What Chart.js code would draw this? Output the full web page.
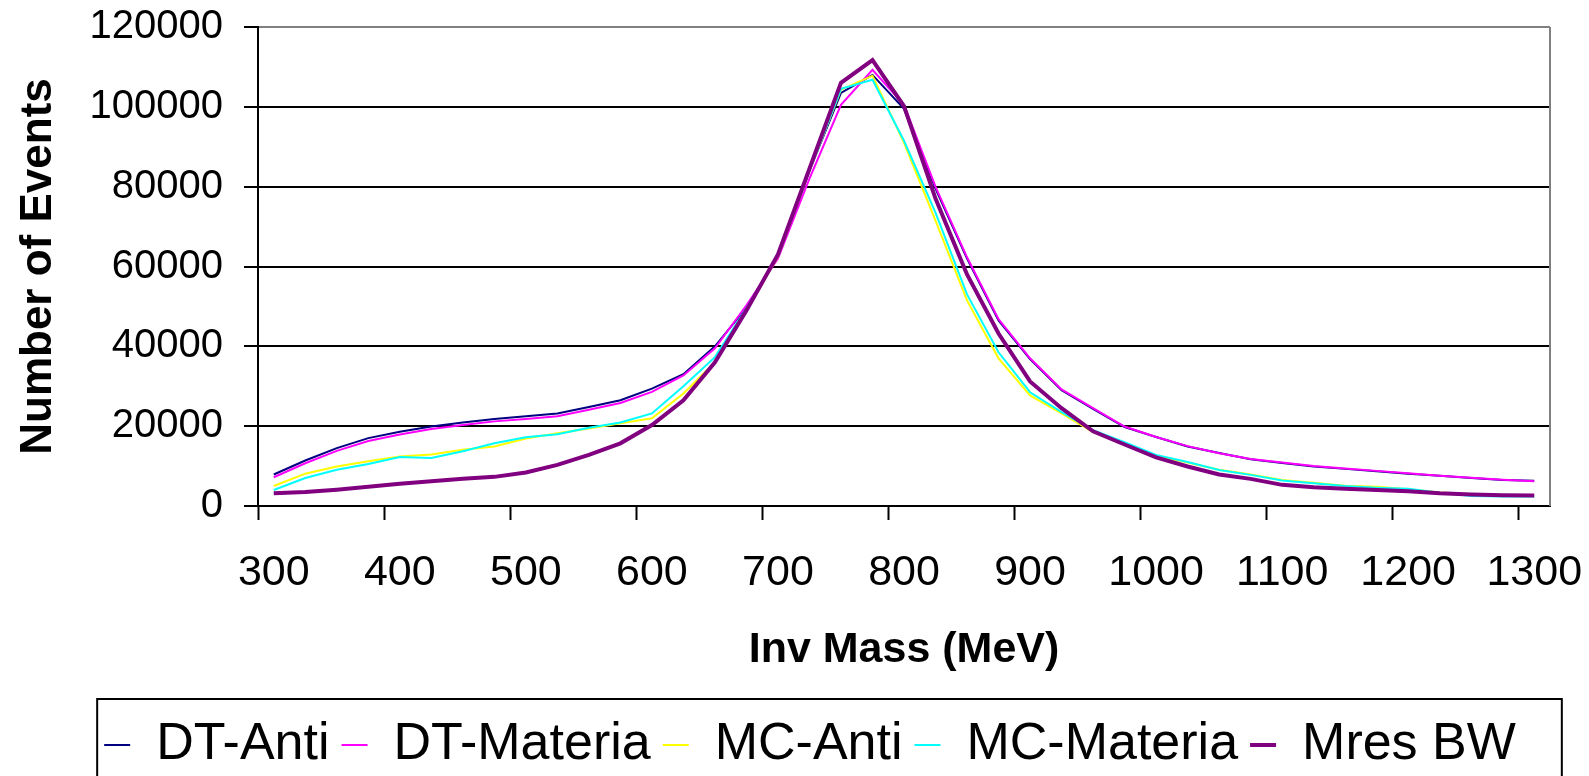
<!DOCTYPE html>
<html>
<head>
<meta charset="utf-8">
<title>Inv Mass</title>
<script src="https://cdn.jsdelivr.net/npm/chart.js@4.4.1/dist/chart.umd.min.js"></script>
<style>
    body { margin: 0; background: #ffffff; }
    #box { width: 1589px; height: 776px; position: relative; }
</style>
</head>
<body>
<div id="box"><canvas id="graficoMassa"></canvas></div>
<script>
// categorias (MeV), uma a cada 25
const massLabels = ['300', '325', '350', '375', '400', '425', '450', '475', '500', '525',
    '550', '575', '600', '625', '650', '675', '700', '725', '750', '775',
    '800', '825', '850', '875', '900', '925', '950', '975', '1000', '1025',
    '1050', '1075', '1100', '1125', '1150', '1175', '1200', '1225', '1250', '1275', '1300'];

const dtAnti = [7900, 11400, 14500, 17000, 18600, 19900, 20900, 21800, 22500, 23200,
    24800, 26500, 29400, 33000, 40000, 49700, 62500, 84000, 103500, 108000,
    99500, 79500, 62000, 46500, 36800, 29000, 24300, 19800, 17300, 14900,
    13300, 11700, 10800, 9900, 9300, 8700, 8100, 7600, 7000, 6500, 6300];

const dtMateria = [7200, 10700, 13800, 16300, 17900, 19300, 20300, 21200, 21800, 22500,
    24100, 25800, 28600, 32700, 39500, 50300, 62000, 82000, 100500, 109300,
    100500, 80000, 62300, 46800, 37000, 29200, 24500, 19900, 17300, 15000,
    13200, 11800, 10900, 10000, 9400, 8800, 8200, 7600, 7100, 6600, 6200];

const mcAnti = [5000, 8100, 9900, 11200, 12400, 12900, 14100, 14900, 16900, 18200,
    19400, 20700, 22000, 28200, 36000, 49000, 62500, 84000, 104300, 107800,
    91000, 71500, 51500, 37000, 27700, 23200, 18500, 15800, 12600, 10900,
    9100, 7900, 6500, 5800, 5100, 4800, 4200, 3400, 2900, 2600, 2500];

const mcMateria = [4000, 7000, 9100, 10500, 12300, 12000, 13700, 15700, 17200, 18000,
    19600, 20900, 23200, 30000, 37300, 49500, 63000, 84000, 104500, 106800,
    91500, 73500, 53000, 38500, 28500, 23500, 19000, 16000, 12800, 11000,
    9000, 7800, 6400, 5700, 5000, 4600, 4300, 3300, 2500, 2400, 2400];

const mresBW = [3200, 3500, 4100, 4800, 5600, 6200, 6800, 7300, 8400, 10300,
    12800, 15700, 20300, 26500, 36000, 49000, 63000, 84500, 106000, 111700,
    100200, 77000, 58000, 43200, 31200, 24500, 18700, 15400, 12200, 9900,
    7900, 6800, 5300, 4700, 4300, 4000, 3700, 3200, 2900, 2700, 2600];

const fonte = "'Liberation Sans', Arial, sans-serif";

function serie(label, data, cor, largura, ordem) {
    return {
        label: label,
        data: data,
        borderColor: cor,
        backgroundColor: cor,
        borderWidth: largura,
        pointRadius: 0,
        pointHoverRadius: 0,
        pointStyle: 'line',
        tension: 0,
        fill: false,
        order: ordem
    };
}

// moldura da area do grafico e caixa da legenda
const molduraPlugin = {
    id: 'moldura',
    beforeDatasetsDraw(chart) {
        const a = chart.chartArea;
        const ctx = chart.ctx;
        ctx.save();
        ctx.strokeStyle = '#808080';
        ctx.lineWidth = 2;
        ctx.beginPath();
        ctx.moveTo(a.right, a.top);
        ctx.lineTo(a.right, a.bottom);
        ctx.stroke();
        ctx.restore();
    },
    afterDraw(chart) {
        const boxes = chart.legend.legendHitBoxes;
        if (!boxes || !boxes.length) return;
        const first = boxes[0];
        const last = boxes[boxes.length - 1];
        const ctx = chart.ctx;
        ctx.save();
        ctx.strokeStyle = '#000000';
        ctx.lineWidth = 2;
        ctx.strokeRect(first.left - 7, first.top - 20, last.left + last.width + 46 - (first.left - 7), 120);
        ctx.restore();
    }
};

const ctx = document.getElementById('graficoMassa').getContext('2d');
const chart = new Chart(ctx, {
    type: 'line',
    data: {
        labels: massLabels,
        datasets: [
            serie('DT-Anti', dtAnti, '#000080', 2, 5),
            serie('DT-Materia', dtMateria, '#ff00ff', 2, 4),
            serie('MC-Anti', mcAnti, '#ffff00', 2, 3),
            serie('MC-Materia', mcMateria, '#00ffff', 2, 2),
            serie('Mres BW', mresBW, '#800080', 4, 1)
        ]
    },
    options: {
        responsive: true,
        maintainAspectRatio: false,
        animation: false,
        layout: {
            padding: { left: 70, right: 39, top: 27, bottom: -5 }
        },
        plugins: {
            tooltip: { enabled: false },
            legend: {
                position: 'bottom',
                labels: {
                    usePointStyle: true,
                    pointStyleWidth: 26,
                    padding: 12,
                    color: '#000',
                    font: { family: fonte, size: 52 },
                    sort: (a, b) => a.datasetIndex - b.datasetIndex
                }
            }
        },
        scales: {
            x: {
                type: 'category',
                offset: true,
                afterFit: function(scale) {
                    scale.height = 201;
                    scale.paddingLeft = 0;
                    scale.paddingRight = 0;
                },
                border: { color: '#000', width: 2 },
                grid: {
                    offset: true,
                    drawOnChartArea: false,
                    drawTicks: true,
                    tickLength: 14,
                    tickWidth: 2,
                    tickColor: function(c) { return c.index % 4 === 0 ? '#000' : 'rgba(0,0,0,0)'; }
                },
                ticks: {
                    autoSkip: false,
                    maxRotation: 0,
                    padding: 27,
                    color: '#000',
                    font: { family: fonte, size: 43 },
                    callback: function(value, index) {
                        return index % 4 === 0 ? massLabels[index] : '';
                    }
                },
                title: {
                    display: true,
                    text: 'Inv Mass (MeV)',
                    color: '#000',
                    font: { family: fonte, size: 43, weight: 'bold' },
                    padding: { top: 0, bottom: 31 }
                }
            },
            y: {
                min: 0,
                max: 120000,
                afterFit: function(scale) {
                    scale.width = 188;
                    scale.paddingTop = 0;
                    scale.paddingBottom = 0;
                },
                border: { color: '#000', width: 2 },
                grid: {
                    color: function(c) { return c.tick && c.tick.value === 120000 ? '#808080' : '#000'; },
                    lineWidth: 2,
                    tickLength: 14,
                    tickWidth: 2,
                    tickColor: '#000'
                },
                ticks: {
                    stepSize: 20000,
                    padding: 21,
                    color: '#000',
                    font: { family: fonte, size: 40 },
                    callback: function(value) { return String(value); }
                },
                title: {
                    display: true,
                    text: 'Number of Events',
                    color: '#000',
                    font: { family: fonte, size: 44, weight: 'bold' },
                    padding: { top: -58, bottom: 0 }
                }
            }
        }
    },
    plugins: [molduraPlugin]
});
</script>
</body>
</html>
